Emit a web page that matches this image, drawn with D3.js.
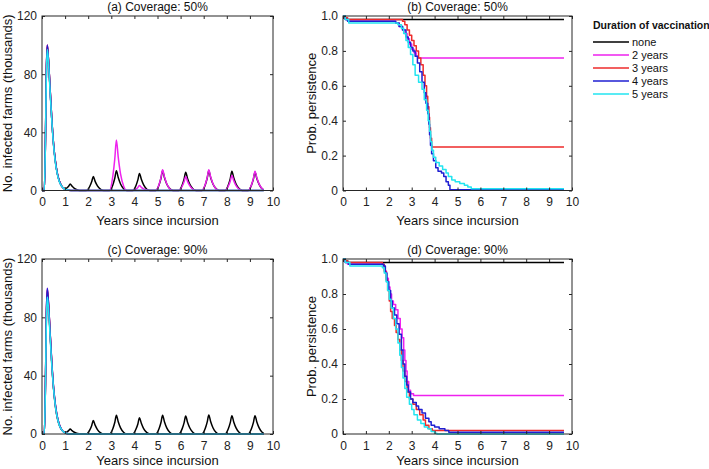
<!DOCTYPE html>
<html><head><meta charset="utf-8">
<script src="https://cdn.jsdelivr.net/npm/d3@7"></script>
<style>body{margin:0;background:#fff}svg{display:block;font-family:"Liberation Sans",Arial,sans-serif}</style>
</head><body><svg id="c" width="709" height="469"></svg>
<script>
// ---------------- data ----------------
const seriesNames = ["none", "2 years", "3 years", "4 years", "5 years"];
const seriesColors = ["#000000", "#ee22ee", "#ee2b2b", "#1f1fd2", "#22e4f0"];
const xTicks = [0,1,2,3,4,5,6,7,8,9,10];
const yTicksCount = [0,40,80,120];
const yTicksProb = [0,0.2,0.4,0.6,0.8,1.0];
const panelTitles = ["(a) Coverage: 50%", "(b) Coverage: 50%", "(c) Coverage: 90%", "(d) Coverage: 90%"];

// (a) infected farms (thousands), coverage 50%
const a_none = [[0,0],[0.1,0],[0.15,35],[0.19,82],[0.23,99],[0.28,90],[0.35,70],[0.42,50],[0.5,32],[0.58,20],[0.66,12],[0.75,6.5],[0.85,3.2],[0.95,1.6],[1.05,1.5],[1.15,2.9],[1.22,4.4],[1.3,3],[1.4,1.5],[1.54,0.4],[1.67,0],
 [1.92,0],[2.07,2.9],[2.15,6],[2.22,9.6],[2.3,6.3],[2.4,3.2],[2.54,0.8],[2.67,0],
 [2.92,0],[3.07,4],[3.15,8.4],[3.22,13.5],[3.3,8.9],[3.4,4.5],[3.54,1.1],[3.67,0],
 [3.92,0],[4.07,3.5],[4.15,7.3],[4.22,11.7],[4.3,7.7],[4.4,3.9],[4.54,0.9],[4.67,0],
 [4.92,0],[5.07,4],[5.15,8.4],[5.22,13.5],[5.3,8.9],[5.4,4.5],[5.54,1.1],[5.67,0],
 [5.92,0],[6.07,3.8],[6.15,7.8],[6.22,12.6],[6.3,8.3],[6.4,4.2],[6.54,1],[6.67,0],
 [6.92,0],[7.07,4],[7.15,8.4],[7.22,13.5],[7.3,8.9],[7.4,4.5],[7.54,1.1],[7.67,0],
 [7.92,0],[8.07,4],[8.15,8.2],[8.22,13.3],[8.3,8.8],[8.4,4.4],[8.54,1.1],[8.67,0],
 [8.92,0],[9.07,3.8],[9.15,7.8],[9.22,12.6],[9.3,8.3],[9.4,4.2],[9.54,1],[9.6,0.4]];
const a_2y = [[0,0],[0.1,0],[0.15,35],[0.19,83],[0.23,100],[0.28,90],[0.35,70],[0.42,50],[0.5,32],[0.58,20],[0.66,12],[0.75,6.5],[0.85,3],[0.95,1.3],[1.05,0.5],[1.15,0.1],[1.25,0],
 [2.92,0],[3.07,10.4],[3.15,21.6],[3.22,34.8],[3.3,23],[3.4,11.5],[3.54,2.8],[3.67,0],
 [3.92,0],[4.07,1],[4.15,2.1],[4.22,3.4],[4.3,2.2],[4.4,1.1],[4.54,0.3],[4.67,0],
 [4.92,0],[5.07,4.3],[5.15,8.8],[5.22,14.2],[5.3,9.4],[5.4,4.7],[5.54,1.1],[5.67,0],
 [5.92,0],[6.07,2.9],[6.15,6],[6.22,9.6],[6.3,6.3],[6.4,3.2],[6.54,0.8],[6.67,0],
 [6.92,0],[7.07,4.3],[7.15,8.8],[7.22,14.2],[7.3,9.4],[7.4,4.7],[7.54,1.1],[7.67,0],
 [7.92,0],[8.07,3.1],[8.15,6.4],[8.22,10.3],[8.3,6.8],[8.4,3.4],[8.54,0.8],[8.67,0],
 [8.92,0],[9.07,4],[9.15,8.2],[9.22,13.3],[9.3,8.8],[9.4,4.4],[9.54,1.1],[9.6,0.4]];
const a_3y = [[0,0],[0.1,0],[0.15,35],[0.19,83],[0.23,100],[0.28,90],[0.35,70],[0.42,50],[0.5,32],[0.58,20],[0.66,12],[0.75,6.5],[0.85,3],[0.95,1.3],[1.05,0.5],[1.15,0.1],[1.25,0],[9.6,0]];
const a_4y = [[0,0],[0.1,0],[0.15,35],[0.19,83],[0.23,100],[0.28,90],[0.35,70],[0.42,50],[0.5,32],[0.58,20],[0.66,12],[0.75,6.5],[0.85,3],[0.95,1.3],[1.05,0.5],[1.15,0.1],[1.25,0],[9.6,0]];
const a_5y = [[0,0],[0.1,0],[0.15,34],[0.19,80],[0.23,97],[0.28,88],[0.35,68],[0.42,49],[0.5,31],[0.58,19],[0.66,11.5],[0.75,6],[0.85,3],[0.95,1.3],[1.05,0.5],[1.15,0.1],[1.25,0],[9.6,0]];

// (b) probability of persistence, coverage 50%
const b_none = [[0,1],[0.08,0.99],[0.15,0.98],[9.65,0.98]];
const b_2y = [[0,1],[0.1,0.98],[0.25,0.97],[2.3,0.96],[2.45,0.94],[2.6,0.92],[2.7,0.9],[2.8,0.87],[2.9,0.84],[3.0,0.81],[3.1,0.79],[3.2,0.77],[3.28,0.76],[9.65,0.76]];
const b_3y = [[0,1],[0.1,0.99],[0.2,0.98],[2.6,0.97],[2.7,0.95],[2.8,0.92],[2.9,0.89],[3.0,0.86],[3.1,0.83],[3.2,0.8],[3.3,0.76],[3.4,0.72],[3.5,0.66],[3.58,0.6],[3.65,0.54],[3.7,0.48],[3.75,0.42],[3.78,0.36],[3.82,0.3],[3.87,0.25],[9.65,0.25]];
const b_4y = [[0,1],[0.1,0.98],[0.2,0.97],[2.3,0.96],[2.45,0.94],[2.6,0.92],[2.75,0.88],[2.85,0.85],[2.95,0.82],[3.05,0.8],[3.15,0.77],[3.25,0.73],[3.35,0.68],[3.45,0.62],[3.55,0.56],[3.62,0.5],[3.7,0.44],[3.75,0.38],[3.78,0.32],[3.82,0.26],[3.87,0.21],[3.95,0.17],[4.05,0.13],[4.15,0.11],[4.3,0.1],[4.4,0.08],[4.5,0.05],[4.6,0.03],[4.67,0.005],[9.65,0.005]];
const b_5y = [[0,1],[0.1,0.98],[0.25,0.96],[2.4,0.95],[2.55,0.93],[2.65,0.9],[2.75,0.86],[2.85,0.82],[2.95,0.78],[3.05,0.72],[3.15,0.66],[3.3,0.62],[3.45,0.58],[3.55,0.52],[3.65,0.46],[3.72,0.4],[3.78,0.34],[3.83,0.28],[3.88,0.23],[3.95,0.19],[4.05,0.16],[4.2,0.14],[4.35,0.12],[4.5,0.1],[4.6,0.08],[4.75,0.06],[4.9,0.05],[5.1,0.04],[5.3,0.03],[5.45,0.02],[5.6,0.01],[9.65,0.01]];

// (c) infected farms (thousands), coverage 90%
const c_none = [[0,0],[0.1,0],[0.15,34],[0.19,80],[0.23,98],[0.28,89],[0.35,69],[0.42,49],[0.5,31],[0.58,19],[0.66,11],[0.75,6],[0.85,2.8],[0.95,1.3],[1.05,1.2],[1.15,2.3],[1.22,3.4],[1.3,2.3],[1.4,1.2],[1.54,0.3],[1.67,0],
 [1.92,0],[2.07,2.8],[2.15,5.7],[2.22,9.2],[2.3,6.1],[2.4,3],[2.54,0.7],[2.67,0],
 [2.92,0],[3.07,3.8],[3.15,7.9],[3.22,12.8],[3.3,8.4],[3.4,4.2],[3.54,1],[3.67,0],
 [3.92,0],[4.07,3.4],[4.15,6.9],[4.22,11.2],[4.3,7.4],[4.4,3.7],[4.54,0.9],[4.67,0],
 [4.92,0],[5.07,3.8],[5.15,7.9],[5.22,12.8],[5.3,8.4],[5.4,4.2],[5.54,1],[5.67,0],
 [5.92,0],[6.07,3.7],[6.15,7.6],[6.22,12.3],[6.3,8.1],[6.4,4.1],[6.54,1],[6.67,0],
 [6.92,0],[7.07,3.9],[7.15,8.1],[7.22,13],[7.3,8.6],[7.4,4.3],[7.54,1],[7.67,0],
 [7.92,0],[8.07,3.8],[8.15,7.8],[8.22,12.6],[8.3,8.3],[8.4,4.2],[8.54,1],[8.67,0],
 [8.92,0],[9.07,3.8],[9.15,7.8],[9.22,12.6],[9.3,8.3],[9.4,4.2],[9.54,1],[9.6,0.4]];
const c_2y = [[0,0],[0.1,0],[0.15,35],[0.19,83],[0.23,100],[0.28,90],[0.35,70],[0.42,50],[0.5,32],[0.58,20],[0.66,12],[0.75,6.5],[0.85,3],[0.95,1.3],[1.05,0.5],[1.15,0.1],[1.25,0],[9.6,0]];
const c_3y = [[0,0],[0.1,0],[0.15,35],[0.19,82],[0.23,99],[0.28,90],[0.35,70],[0.42,50],[0.5,32],[0.58,20],[0.66,12],[0.75,6.5],[0.85,3],[0.95,1.3],[1.05,0.5],[1.15,0.1],[1.25,0],[9.6,0]];
const c_4y = [[0,0],[0.1,0],[0.15,35],[0.19,83],[0.23,100],[0.28,90],[0.35,70],[0.42,50],[0.5,32],[0.58,20],[0.66,12],[0.75,6.5],[0.85,3],[0.95,1.3],[1.05,0.5],[1.15,0.1],[1.25,0],[9.6,0]];
const c_5y = [[0,0],[0.1,0],[0.15,33],[0.19,78],[0.23,94],[0.28,86],[0.35,67],[0.42,48],[0.5,31],[0.58,19],[0.66,11.5],[0.75,6],[0.85,3],[0.95,1.3],[1.05,0.5],[1.15,0.1],[1.25,0],[9.6,0]];

// (d) probability of persistence, coverage 90%
const d_none = [[0,1],[0.1,0.99],[0.2,0.98],[9.65,0.98]];
const d_2y = [[0,1],[0.1,0.98],[0.2,0.97],[1.75,0.96],[1.82,0.93],[1.9,0.89],[1.98,0.84],[2.05,0.8],[2.12,0.76],[2.2,0.74],[2.3,0.71],[2.4,0.66],[2.5,0.6],[2.58,0.55],[2.65,0.48],[2.7,0.42],[2.75,0.36],[2.8,0.3],[2.87,0.25],[2.95,0.23],[3.08,0.22],[9.65,0.22]];
const d_3y = [[0,1],[0.1,0.99],[0.2,0.98],[1.72,0.97],[1.8,0.93],[1.88,0.88],[1.95,0.82],[2.02,0.76],[2.08,0.7],[2.15,0.66],[2.25,0.62],[2.32,0.58],[2.4,0.54],[2.48,0.48],[2.55,0.42],[2.62,0.36],[2.7,0.3],[2.8,0.24],[2.9,0.2],[3.05,0.17],[3.2,0.14],[3.35,0.11],[3.5,0.08],[3.6,0.05],[3.75,0.03],[3.9,0.02],[9.65,0.02]];
const d_4y = [[0,1],[0.1,0.98],[0.25,0.97],[1.78,0.96],[1.85,0.92],[1.92,0.87],[2.0,0.82],[2.08,0.76],[2.15,0.72],[2.25,0.68],[2.35,0.63],[2.45,0.57],[2.55,0.48],[2.62,0.4],[2.7,0.33],[2.78,0.28],[2.85,0.24],[2.95,0.2],[3.05,0.18],[3.2,0.16],[3.3,0.14],[3.45,0.12],[3.6,0.09],[3.75,0.07],[3.85,0.05],[4.0,0.04],[4.2,0.03],[4.45,0.02],[4.62,0.01],[9.65,0.01]];
const d_5y = [[0,1],[0.1,0.98],[0.3,0.96],[1.72,0.95],[1.8,0.92],[1.88,0.87],[1.95,0.82],[2.02,0.77],[2.1,0.72],[2.2,0.66],[2.3,0.6],[2.4,0.52],[2.48,0.45],[2.55,0.38],[2.62,0.32],[2.7,0.26],[2.78,0.21],[2.9,0.17],[3.0,0.14],[3.1,0.11],[3.25,0.08],[3.4,0.06],[3.55,0.04],[3.7,0.03],[3.85,0.015],[4.0,0.005],[4.1,0],[9.65,0]];

// ---------------- drawing ----------------
const svg = d3.select("#c");
const axisCol = "#262626";

function panel(cfg) {
  const {x0, x1, y0, y1, yDomain, yTicks, yFmt, series, curve, title, ylabel, ylabelX, xlabelDy} = cfg;
  const x = d3.scaleLinear().domain([0, 10]).range([x0, x1]);
  const y = d3.scaleLinear().domain(yDomain).range([y1, y0]);
  const g = svg.append("g");

  const line = d3.line().x(d => x(d[0])).y(d => y(d[1])).curve(curve);
  series.forEach((s, i) => {
    g.append("path").datum(s).attr("d", line)
      .attr("fill", "none").attr("stroke", seriesColors[i])
      .attr("stroke-width", 1.5).attr("stroke-linejoin", "round");
  });

  const style = sel => {
    sel.select(".domain").remove();
    sel.selectAll(".tick line").attr("stroke", axisCol);
    sel.selectAll(".tick text").attr("fill", "#222").style("font-size", "12px")
      .style("font-family", '"Liberation Sans",Arial,sans-serif');
  };
  g.append("g").attr("transform", `translate(0,${y1})`)
    .call(d3.axisBottom(x).tickValues(xTicks).tickSize(-3).tickPadding(7).tickFormat(d3.format("d"))).call(style);
  g.append("g").attr("transform", `translate(0,${y0})`)
    .call(d3.axisTop(x).tickValues(xTicks).tickSize(-3).tickFormat("")).call(style);
  g.append("g").attr("transform", `translate(${x0},0)`)
    .call(d3.axisLeft(y).tickValues(yTicks).tickSize(-3).tickPadding(5).tickFormat(yFmt)).call(style);
  g.append("g").attr("transform", `translate(${x1},0)`)
    .call(d3.axisRight(y).tickValues(yTicks).tickSize(-3).tickFormat("")).call(style);

  g.append("rect").attr("x", x0).attr("y", y0).attr("width", x1 - x0).attr("height", y1 - y0)
    .attr("fill", "none").attr("stroke", axisCol).attr("stroke-width", 1);

  g.append("text").attr("x", (x0 + x1) / 2).attr("y", y0 - 5.5).attr("text-anchor", "middle")
    .style("font-size", "12px").attr("fill", "#111").text(title);
  g.append("text").attr("x", (x0 + x1) / 2).attr("y", y1 + xlabelDy).attr("text-anchor", "middle")
    .style("font-size", "13px").attr("fill", "#111").text("Years since incursion");
  g.append("text").attr("transform", `translate(${ylabelX},${(y0 + y1) / 2}) rotate(-90)`)
    .attr("text-anchor", "middle").style("font-size", "13px").attr("fill", "#111").text(ylabel);
}

const countFmt = d3.format("d");
const probFmt = d => d === 0 ? "0" : d.toFixed(1);

panel({x0: 42, x1: 273, y0: 16, y1: 190.5, yDomain: [0, 120], yTicks: yTicksCount, yFmt: countFmt,
  series: [a_none, a_2y, a_3y, a_4y, a_5y], curve: d3.curveMonotoneX, title: panelTitles[0],
  ylabel: "No. infected farms (thousands)", ylabelX: 12, xlabelDy: 34});
panel({x0: 343, x1: 572, y0: 16, y1: 190.5, yDomain: [0, 1], yTicks: yTicksProb, yFmt: probFmt,
  series: [b_none, b_2y, b_3y, b_4y, b_5y], curve: d3.curveStepAfter, title: panelTitles[1],
  ylabel: "Prob. persistence", ylabelX: 316, xlabelDy: 34});
panel({x0: 42, x1: 273, y0: 259, y1: 434, yDomain: [0, 120], yTicks: yTicksCount, yFmt: countFmt,
  series: [c_none, c_2y, c_3y, c_4y, c_5y], curve: d3.curveMonotoneX, title: panelTitles[2],
  ylabel: "No. infected farms (thousands)", ylabelX: 12, xlabelDy: 31});
panel({x0: 343, x1: 572, y0: 259, y1: 434, yDomain: [0, 1], yTicks: yTicksProb, yFmt: probFmt,
  series: [d_none, d_2y, d_3y, d_4y, d_5y], curve: d3.curveStepAfter, title: panelTitles[3],
  ylabel: "Prob. persistence", ylabelX: 316, xlabelDy: 31});

// legend
const lg = svg.append("g");
lg.append("text").attr("x", 593).attr("y", 29).style("font-size", "10.5px").style("font-weight", "bold")
  .attr("fill", "#111").text("Duration of vaccination");
seriesNames.forEach((n, i) => {
  const yy = 42 + i * 13;
  lg.append("line").attr("x1", 593).attr("x2", 629).attr("y1", yy).attr("y2", yy)
    .attr("stroke", seriesColors[i]).attr("stroke-width", 1.5);
  lg.append("text").attr("x", 632).attr("y", yy + 4).style("font-size", "11px").attr("fill", "#111").text(n);
});
</script></body></html>
